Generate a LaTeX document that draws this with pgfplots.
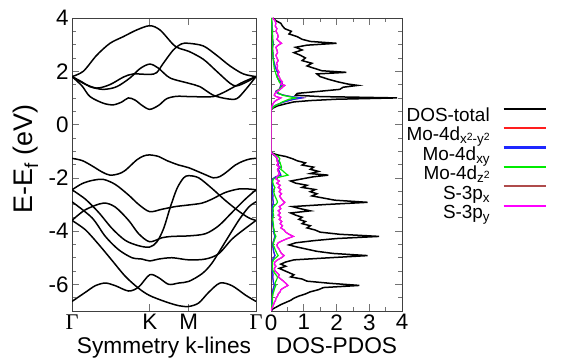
\documentclass[border=0pt]{standalone}
\usepackage{fontspec}
\setmainfont{Liberation Sans}
\newfontfamily\serifgamma{Liberation Serif}
\usepackage{pgfplots}
\pgfplotsset{compat=1.18}
\usepackage{pgfplotstable}
\definecolor{cred}{RGB}{255,30,30}
\definecolor{cblue}{RGB}{30,40,255}
\definecolor{cgreen}{RGB}{0,235,0}
\definecolor{cbrown}{RGB}{175,75,75}
\definecolor{cmag}{RGB}{255,0,255}
\newcommand{\sub}[1]{\raisebox{-0.3ex}{\fontsize{13.5}{13.5}\selectfont #1}}
\newcommand{\sups}[1]{\raisebox{0.55ex}{\fontsize{10.5}{10.5}\selectfont #1}}

\pgfplotstableread{
E T B G M
4.00 0.05 0.01 0.01 0.05
3.90 0.15 0.02 0.02 0.12
3.80 0.30 0.03 0.02 0.15
3.70 0.35 0.03 0.03 0.13
3.60 0.42 0.04 0.03 0.18
3.50 0.62 0.05 0.04 0.15
3.40 0.55 0.04 0.04 0.20
3.30 0.80 0.05 0.05 0.22
3.20 0.95 0.05 0.05 0.18
3.12 1.20 0.06 0.05 0.25
3.05 2.00 0.07 0.06 0.32
2.98 1.10 0.06 0.05 0.22
2.90 0.75 0.05 0.05 0.15
2.80 0.95 0.05 0.05 0.18
2.70 0.70 0.06 0.05 0.20
2.60 0.90 0.06 0.06 0.15
2.50 1.05 0.07 0.06 0.18
2.40 0.95 0.08 0.07 0.22
2.30 1.25 0.10 0.08 0.17
2.20 1.10 0.12 0.09 0.20
2.10 1.35 0.15 0.10 0.18
2.02 1.55 0.18 0.12 0.22
1.96 2.30 0.22 0.14 0.25
1.90 1.40 0.20 0.15 0.20
1.80 1.50 0.18 0.18 0.25
1.70 1.75 0.22 0.22 0.28
1.60 2.05 0.30 0.25 0.35
1.52 2.35 0.35 0.30 0.30
1.47 2.65 0.30 0.38 0.42
1.40 2.20 0.28 0.30 0.35
1.32 2.10 0.25 0.25 0.28
1.25 1.50 0.15 0.18 0.20
1.17 0.80 0.20 0.25 0.12
1.10 0.75 0.40 0.35 0.10
1.05 1.50 0.60 0.55 0.15
1.00 3.85 0.95 0.75 0.30
0.95 2.00 0.70 0.55 0.22
0.90 1.20 0.55 0.45 0.15
0.85 0.70 0.40 0.35 0.10
0.78 0.45 0.25 0.25 0.06
0.70 0.20 0.10 0.12 0.03
0.62 0.06 0.03 0.04 0.01
0.55 0.00 0.00 0.00 0.00
-1.05 0.00 0.00 0.00 0.00
-1.08 0.05 0.02 0.03 0.02
-1.14 0.20 0.08 0.12 0.10
-1.20 0.45 0.15 0.22 0.15
-1.28 0.65 0.18 0.27 0.20
-1.36 0.80 0.22 0.25 0.18
-1.44 1.05 0.25 0.28 0.22
-1.52 0.95 0.20 0.30 0.18
-1.60 1.30 0.28 0.32 0.25
-1.68 1.20 0.22 0.30 0.20
-1.76 1.45 0.25 0.38 0.22
-1.84 1.20 0.28 0.45 0.25
-1.90 1.75 0.30 0.52 0.22
-1.96 1.30 0.15 0.30 0.18
-2.04 0.95 0.05 0.08 0.15
-2.12 0.60 0.03 0.05 0.25
-2.20 0.75 0.04 0.06 0.18
-2.28 1.10 0.05 0.08 0.28
-2.36 0.95 0.04 0.12 0.22
-2.44 1.35 0.06 0.10 0.30
-2.52 1.20 0.05 0.08 0.25
-2.60 1.40 0.05 0.10 0.32
-2.68 1.25 0.06 0.12 0.26
-2.76 1.60 0.05 0.15 0.30
-2.84 1.95 0.06 0.18 0.35
-2.92 2.95 0.07 0.20 0.42
-3.00 1.70 0.06 0.15 0.35
-3.08 0.65 0.04 0.08 0.25
-3.16 0.90 0.04 0.06 0.30
-3.24 1.20 0.05 0.07 0.22
-3.32 0.60 0.04 0.06 0.28
-3.40 0.75 0.05 0.08 0.22
-3.48 0.95 0.05 0.06 0.30
-3.56 0.85 0.04 0.05 0.25
-3.64 1.05 0.05 0.06 0.33
-3.72 0.95 0.05 0.07 0.28
-3.80 1.20 0.06 0.08 0.35
-3.88 1.10 0.07 0.08 0.30
-3.96 1.35 0.08 0.10 0.40
-4.04 1.50 0.08 0.10 0.45
-4.12 2.10 0.10 0.12 0.55
-4.20 3.30 0.12 0.15 0.68
-4.28 2.00 0.10 0.12 0.50
-4.36 1.30 0.08 0.10 0.35
-4.44 0.75 0.06 0.08 0.22
-4.52 0.55 0.05 0.06 0.18
-4.60 0.80 0.06 0.10 0.20
-4.68 1.10 0.07 0.12 0.25
-4.76 1.40 0.08 0.15 0.28
-4.84 1.90 0.10 0.18 0.32
-4.92 2.95 0.12 0.22 0.40
-5.00 1.80 0.08 0.15 0.32
-5.08 0.70 0.05 0.08 0.20
-5.16 0.45 0.04 0.05 0.12
-5.24 0.30 0.03 0.04 0.10
-5.32 0.45 0.04 0.05 0.15
-5.40 0.25 0.03 0.04 0.10
-5.48 0.40 0.04 0.06 0.12
-5.56 0.55 0.05 0.10 0.18
-5.64 0.70 0.06 0.15 0.25
-5.72 0.60 0.05 0.20 0.22
-5.80 0.95 0.06 0.18 0.30
-5.88 1.10 0.07 0.15 0.38
-5.96 1.80 0.08 0.12 0.45
-6.04 2.70 0.10 0.15 0.52
-6.12 1.60 0.08 0.12 0.40
-6.20 1.45 0.06 0.10 0.30
-6.28 1.20 0.05 0.08 0.28
-6.36 1.05 0.05 0.06 0.22
-6.44 0.85 0.04 0.05 0.20
-6.52 0.70 0.03 0.04 0.15
-6.60 0.60 0.03 0.05 0.14
-6.68 0.45 0.02 0.04 0.10
-6.76 0.30 0.02 0.03 0.08
-6.84 0.18 0.01 0.02 0.05
-6.92 0.06 0.01 0.01 0.02
-7.00 0.00 0.00 0.00 0.00
}\dostable

\begin{document}
\begin{tikzpicture}
\useasboundingbox (0,0) rectangle (574bp,360bp);
\pgfplotsset{
  common/.style={
    scale only axis, height=293bp, ymin=-7, ymax=4,
    axis line style={draw=black!75, line width=0.8bp},
    tick style={draw=black!55, line width=0.6bp},
    tick align=inside,
    ticklabel style={font=\fontsize{22.5}{26}\selectfont},
    xlabel style={font=\fontsize{22.8}{27}\selectfont},
    ytick={-6,-4,-2,0,2,4},
    minor ytick={-7,-6.5,...,4},
    major tick length=7bp, minor tick length=4bp,
  },
  band/.style={black, line width=1.5bp, smooth, tension=0.5},
}
\begin{axis}[common, at={(72bp,49bp)}, anchor=south west, width=184bp,
  xmin=0, xmax=552, xtick={0,233.3,350,552},
  xticklabels={{\serifgamma Γ},K,M,{\serifgamma Γ}},
  yticklabels={-6,-4,-2,0,2,4},
  ylabel={E-E\textsubscript{f} (eV)},
  every axis y label/.style={at={(axis description cs:-0.25,0.52)}, anchor=center, rotate=90, font=\fontsize{27}{30}\selectfont},
  xlabel={Symmetry k-lines}]
% conduction bands
\addplot[band] coordinates {(0,1.8)(30,1.45)(54,1.05)(94,0.8)(124,0.74)(150,0.85)(169,1.0)(189,0.92)(210,0.72)(233,0.57)(260,0.72)(284,0.97)(314,1.06)(350,1.05)(394,1.04)(424,1.05)(454,1.2)(484,1.4)(514,1.6)(552,1.8)};
\addplot[band] coordinates {(0,1.8)(30,1.6)(54,1.42)(94,1.32)(134,1.42)(174,1.75)(204,2.1)(233,2.27)(259,2.12)(294,1.75)(350,1.55)(384,1.42)(424,1.1)(464,0.97)(494,0.97)(520,1.3)(552,1.8)};
\addplot[band] coordinates {(0,1.8)(34,1.55)(74,1.37)(114,1.5)(154,1.78)(184,1.9)(233,1.88)(254,1.95)(274,2.3)(304,2.8)(329,3.03)(350,3.05)(394,2.95)(434,2.6)(474,2.2)(514,1.9)(552,1.8)};
\addplot[band] coordinates {(0,1.8)(34,2.0)(74,2.6)(114,3.05)(154,3.3)(194,3.55)(233,3.71)(264,3.55)(304,3.0)(324,2.85)(350,2.75)(394,2.45)(434,2.0)(474,1.55)(494,1.45)(524,1.6)(552,1.8)};
% valence bands
\addplot[band] coordinates {(0,-1.27)(30,-1.35)(60,-1.55)(90,-1.78)(114,-1.9)(140,-1.85)(160,-1.72)(194,-1.33)(215,-1.18)(233,-1.14)(260,-1.2)(284,-1.35)(320,-1.52)(350,-1.62)(394,-1.85)(424,-2.0)(444,-1.95)(464,-1.78)(490,-1.52)(514,-1.37)(535,-1.29)(552,-1.27)};
\addplot[band] coordinates {(0,-2.45)(30,-2.22)(60,-2.1)(94,-2.06)(130,-2.25)(170,-2.65)(200,-3.0)(233,-3.27)(270,-3.18)(310,-3.08)(350,-3.02)(390,-2.95)(420,-2.8)(460,-2.55)(500,-2.42)(530,-2.42)(552,-2.45)};
\addplot[band] coordinates {(0,-2.45)(40,-2.8)(80,-3.3)(120,-3.9)(160,-4.35)(200,-4.55)(233,-4.6)(255,-4.4)(275,-3.9)(295,-3.1)(315,-2.4)(335,-2.0)(350,-1.92)(380,-2.0)(420,-2.4)(460,-2.85)(500,-3.25)(530,-3.5)(552,-3.6)};
\addplot[band] coordinates {(0,-3.6)(40,-3.2)(94,-2.95)(130,-3.1)(170,-3.6)(200,-4.1)(233,-4.4)(270,-4.25)(300,-4.2)(350,-4.18)(400,-4.1)(440,-3.8)(480,-3.3)(520,-2.8)(552,-2.45)};
\addplot[band] coordinates {(0,-2.9)(60,-3.5)(100,-4.2)(140,-4.7)(180,-5.0)(210,-5.05)(233,-5.12)(260,-5.05)(300,-5.0)(350,-5.08)(400,-5.05)(440,-4.85)(480,-4.3)(520,-3.9)(552,-3.6)};
\addplot[band] coordinates {(0,-3.6)(40,-3.95)(80,-4.5)(120,-5.1)(160,-5.7)(200,-6.15)(233,-6.42)(280,-6.65)(320,-6.8)(350,-6.83)(380,-6.7)(410,-6.3)(444,-5.95)(480,-6.05)(520,-6.4)(552,-6.64)};
\addplot[band] coordinates {(0,-6.64)(40,-6.3)(70,-6.05)(100,-5.95)(130,-6.05)(170,-6.25)(200,-6.1)(233,-5.64)(260,-5.75)(290,-6.0)(320,-5.95)(350,-5.89)(390,-5.6)(420,-5.2)(460,-4.4)(500,-3.6)(530,-3.1)(552,-2.9)};
\end{axis}

\begin{axis}[common, at={(271bp,49bp)}, anchor=south west, width=131bp,
  xmin=0, xmax=4, xtick={0,1,2,3,4}, xticklabels={0,1,2,3,4},
  minor xtick={0.5,1.5,2.5,3.5},
  yticklabels={},
  xlabel={DOS-PDOS},
  legend plot pos=right,
  legend cell align=right,
  legend image code/.code={\path[draw=none,fill=none] (0bp,0bp) rectangle (55bp,7.5bp); \draw[#1, line width=2.2bp] (13bp,7.2bp) -- (55bp,7.2bp);},
  legend style={at={(2.107,0.70)}, anchor=north east, draw=none, fill=none,
    inner sep=0pt, row sep=0pt, column sep=0pt,
    font=\fontsize{19}{21}\selectfont,
    nodes={inner sep=1pt, text height=14.5pt, text depth=3pt}}]
\addplot[black, line width=1.5bp] table[x=T, y=E] {\dostable};
\addlegendentry{DOS-total}
\addplot[cred, line width=1.2bp] table[x=B, y=E] {\dostable};
\addlegendentry{Mo-4d\sub{x\sups{2}-y\sups{2}}}
\addplot[cblue, line width=1.2bp] table[x=B, y=E] {\dostable};
\addlegendentry{Mo-4d\sub{xy}}
\addplot[cgreen, line width=1.2bp] table[x=G, y=E] {\dostable};
\addlegendentry{Mo-4d\sub{z\sups{2}}}
\addplot[cbrown, line width=1.2bp] table[x=M, y=E] {\dostable};
\addlegendentry{S-3p\sub{x}}
\addplot[cmag, line width=1.2bp] table[x=M, y=E] {\dostable};
\addlegendentry{S-3p\sub{y}}
\end{axis}
\end{tikzpicture}
\end{document}
